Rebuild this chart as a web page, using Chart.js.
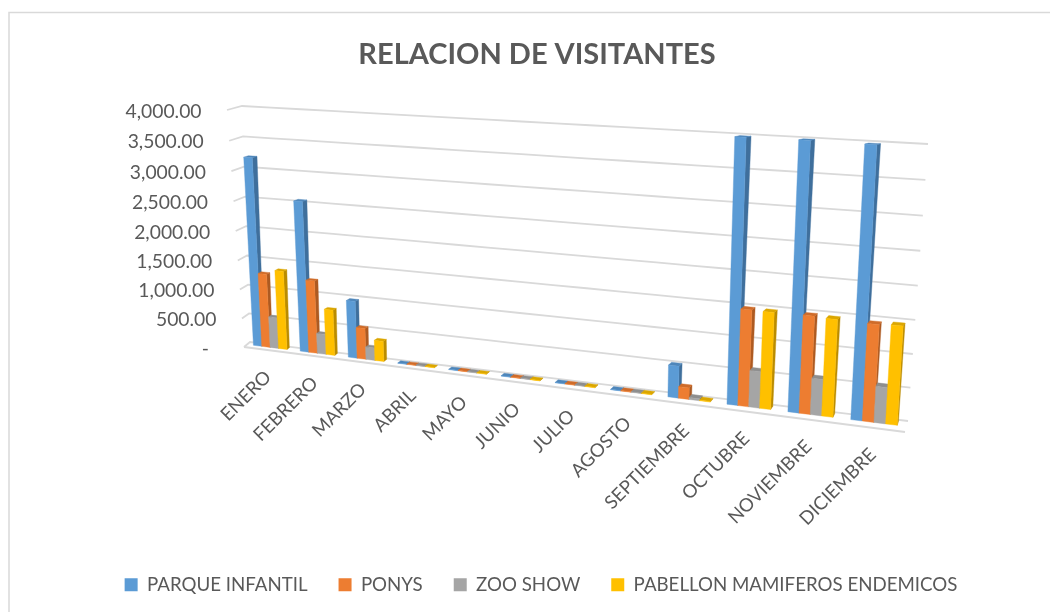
<!DOCTYPE html>
<html><head><meta charset="utf-8">
<script src="https://cdn.jsdelivr.net/npm/chart.js@4"></script>
<style>html,body{margin:0;padding:0;background:#fff}canvas{display:block}</style>
</head><body><canvas id="c" width="1050" height="612"></canvas>
<script>
const categories = ['ENERO','FEBRERO','MARZO','ABRIL','MAYO','JUNIO','JULIO','AGOSTO','SEPTIEMBRE','OCTUBRE','NOVIEMBRE','DICIEMBRE'];
const parqueInfantil = [3200,2540,960,6,6,6,6,6,500,3980,3985,3975];
const ponys = [1260,1230,520,6,6,6,6,6,180,1475,1475,1445];
const zooShow = [530,340,210,6,6,6,6,6,30,560,550,540];
const pabellon = [1340,770,340,6,6,6,6,6,10,1470,1460,1460];
const seriesNames = ['PARQUE INFANTIL','PONYS','ZOO SHOW','PABELLON MAMIFEROS ENDEMICOS'];
const seriesColors = ['#5B9BD5','#ED7D31','#A5A5A5','#FFC000'];
const sideColors = ['#3F6F9C','#AD5A22','#787878','#BA8C00'];
const topColors = ['#4E86BA','#CF6C2A','#8E8E8E','#DBA600'];
const FONT = 'Lato';
const TEXT = '#595959';
const GRID = '#D9D9D9';

function quad(bl,br,tr,tl){
  const dx1=br[0]-tr[0],dx2=tl[0]-tr[0],sx=bl[0]-br[0]+tr[0]-tl[0];
  const dy1=br[1]-tr[1],dy2=tl[1]-tr[1],sy=bl[1]-br[1]+tr[1]-tl[1];
  const D=dx1*dy2-dx2*dy1, g=(sx*dy2-dx2*sy)/D, h=(dx1*sy-sx*dy1)/D;
  const a=br[0]-bl[0]+g*br[0],b=tl[0]-bl[0]+h*tl[0],d=br[1]-bl[1]+g*br[1],e=tl[1]-bl[1]+h*tl[1];
  return (u,v)=>{const q=g*u+h*v+1;return [(a*u+b*v+bl[0])/q,(d*u+e*v+bl[1])/q];};
}
const backWall = quad([250,342],[908,421],[928,144],[242,106]);
const frontWall = quad([244,347],[905,432],[919,147],[227,110]);
function P(u,v,w){const b=backWall(u,v),f=frontWall(u,v);return [b[0]+(f[0]-b[0])*w,b[1]+(f[1]-b[1])*w];}
const BAR_FRONT=0.5, BAR_BACK=0.15;

function poly(ctx,pts,fill){ctx.beginPath();pts.forEach((p,i)=>i?ctx.lineTo(p[0],p[1]):ctx.moveTo(p[0],p[1]));ctx.closePath();ctx.fillStyle=fill;ctx.fill();ctx.strokeStyle=fill;ctx.lineWidth=0.4;ctx.stroke();}

const perspective = {
  id:'perspective',
  afterLayout(chart){ chart.titleBlock.left-=4; chart.titleBlock.right-=4; },
  beforeDraw(chart){
    const c=chart.ctx;c.save();c.fillStyle='#fff';c.fillRect(0,0,1050,612);
    c.strokeStyle=GRID;c.lineWidth=1.5;c.beginPath();c.moveTo(9,612);c.lineTo(9,12.5);c.lineTo(1050,12.5);c.stroke();c.restore();
  },
  beforeDatasetsDraw(chart){
    const c=chart.ctx,a=chart.chartArea,ys=chart.scales.y;
    const U=x=>(x-a.left)/(a.right-a.left), V=y=>(a.bottom-y)/(a.bottom-a.top);
    c.save();c.strokeStyle=GRID;c.lineWidth=1.8;
    ys.ticks.forEach(t=>{
      const v=V(ys.getPixelForValue(t.value));
      const f=P(0,v,1),b=P(0,v,0);
      c.beginPath();c.moveTo(f[0],f[1]);c.lineTo(b[0],b[1]);
      for(let i=1;i<=20;i++){const p=P(i/20,v,0);c.lineTo(p[0],p[1]);}
      c.stroke();
    });
    const fl=P(0,0,1),fr=P(1,0,1);
    c.beginPath();c.moveTo(fl[0],fl[1]);c.lineTo(fr[0],fr[1]);c.stroke();
    chart.data.datasets.forEach((ds,di)=>{
      chart.getDatasetMeta(di).data.forEach(el=>{
        const p=el.getProps(['x','y','base','width'],true);
        const ul=U(p.x-p.width/2),ur=U(p.x+p.width/2),vt=V(p.y),vb=V(p.base);
        poly(c,[P(ur,vb,BAR_FRONT),P(ur,vb,BAR_BACK),P(ur,vt,BAR_BACK),P(ur,vt,BAR_FRONT)],sideColors[di]);
        poly(c,[P(ul,vt,BAR_FRONT),P(ur,vt,BAR_FRONT),P(ur,vt,BAR_BACK),P(ul,vt,BAR_BACK)],topColors[di]);
        poly(c,[P(ul,vb,BAR_FRONT),P(ur,vb,BAR_FRONT),P(ur,vt,BAR_FRONT),P(ul,vt,BAR_FRONT)],seriesColors[di]);
      });
    });
    c.restore();
    return false;
  },
  afterDraw(chart){
    const c=chart.ctx,a=chart.chartArea,ys=chart.scales.y,xs=chart.scales.x;
    const U=x=>(x-a.left)/(a.right-a.left), V=y=>(a.bottom-y)/(a.bottom-a.top);
    c.save();c.fillStyle=TEXT;c.font='19.3px '+FONT;
    c.textAlign='right';c.textBaseline='middle';
    ys.ticks.forEach(t=>{
      const p=P(0,V(ys.getPixelForValue(t.value)),1);
      c.fillText(t.label,t.value===0?p[0]-35:p[0]-25.5,p[1]+1.5);
    });
    c.font='18.6px '+FONT;
    xs.ticks.forEach((t,i)=>{
      const p=P(U(xs.getPixelForTick(i)),0,1);
      c.save();c.translate(p[0]+1,p[1]+24);c.rotate(-Math.PI/4);
      c.fillText(xs.getLabelForValue(t.value),0,0);c.restore();
    });
    c.restore();
  }
};

new Chart(document.getElementById('c'),{
  type:'bar',
  data:{labels:categories,datasets:[parqueInfantil,ponys,zooShow,pabellon].map((d,i)=>({label:seriesNames[i],data:d,backgroundColor:seriesColors[i],borderWidth:0}))},
  plugins:[perspective],
  options:{
    responsive:false,animation:false,
    layout:{padding:{left:32,right:0,top:20,bottom:8}},
    datasets:{bar:{barPercentage:1,categoryPercentage:0.72}},
    scales:{
      x:{grid:{display:false},border:{display:false},ticks:{display:false}},
      y:{min:0,max:4000,grid:{display:false},border:{display:false},
         ticks:{display:false,stepSize:500,callback:v=>v===0?'-':v.toLocaleString('en-US',{minimumFractionDigits:2,maximumFractionDigits:2})}}
    },
    plugins:{
      title:{display:true,text:'RELACION DE VISITANTES',color:TEXT,font:{family:FONT,size:29,weight:'bold'},padding:{top:17,bottom:10}},
      legend:{position:'bottom',labels:{color:TEXT,font:{family:FONT,size:18.7},boxWidth:13,boxHeight:13,padding:31}},
      tooltip:{enabled:false}
    }
  }
});
</script></body></html>
